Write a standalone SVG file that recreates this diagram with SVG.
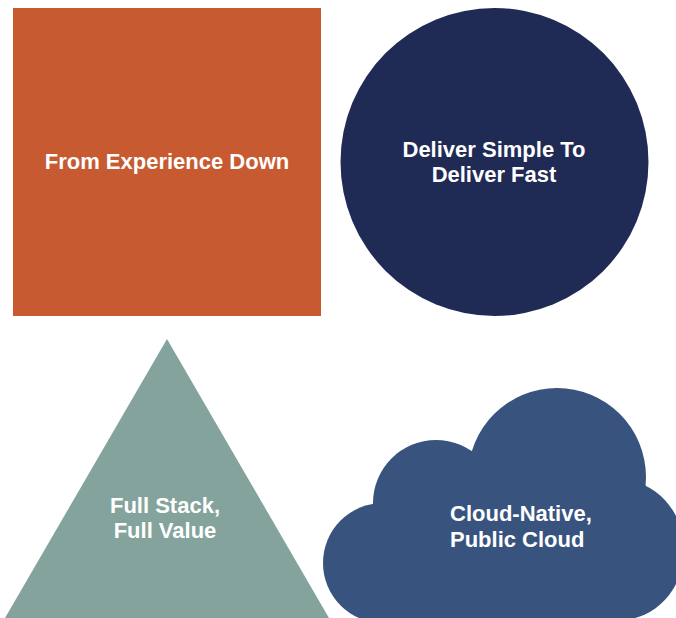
<svg xmlns="http://www.w3.org/2000/svg" width="676" height="618" viewBox="0 0 676 618">
<style>
.lbl{font-family:"Liberation Sans",Arial,sans-serif;font-weight:bold;font-size:22px;fill:#ffffff;text-anchor:middle}
.lft{text-anchor:start}
</style>
<rect width="676" height="618" fill="#ffffff"/>
<g id="node-experience">
<rect x="13" y="8" width="308" height="308" fill="#C75A31"/>
<text class="lbl" x="167" y="169">From Experience Down</text>
</g>
<g id="node-deliver">
<circle cx="494.5" cy="162" r="154" fill="#1F2A55"/>
<text class="lbl" x="494" y="157">Deliver Simple To</text>
<text class="lbl" x="494" y="182">Deliver Fast</text>
</g>
<g id="node-fullstack">
<polygon points="167,339 329,618 5,618" fill="#84A39C"/>
<text class="lbl" x="165" y="513">Full Stack,</text>
<text class="lbl" x="165" y="538">Full Value</text>
</g>
<g id="node-cloud">
<g fill="#39537F">
<circle cx="383" cy="563" r="60"/>
<circle cx="436" cy="503" r="63"/>
<circle cx="557" cy="477" r="89"/>
<ellipse cx="620" cy="550" rx="64" ry="70"/>
<rect x="383" y="520" width="240" height="98"/>
</g>
<text class="lbl lft" x="450" y="521">Cloud-Native,</text>
<text class="lbl lft" x="450" y="547">Public Cloud</text>
</g>
<g id="connectors"/>
</svg>
